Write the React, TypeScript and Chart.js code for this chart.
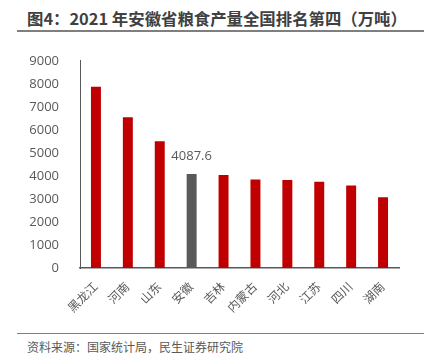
import React, { useEffect, useRef } from "react";
import { Chart, registerables } from "chart.js";

Chart.register(...registerables);

const categories = ["黑龙江", "河南", "山东", "安徽", "吉林", "内蒙古", "河北", "江苏", "四川", "湖南"];
const output = [7867.7, 6544.2, 5500.7, 4087.6, 4039.2, 3840.3, 3825.1, 3746.1, 3582.1, 3074.4];
const highlightIndex = 3;
const highlightLabel = "4087.6";
const yTicks = { min: 0, max: 9000, step: 1000 };

const FONT = '"Open Sans", "Noto Sans CJK SC", sans-serif';
const RED = "#C00000";
const GRAY = "#595959";

const labelPlugin = {
  id: "hlLabel",
  afterDatasetsDraw(chart: any) {
    const meta = chart.getDatasetMeta(0);
    const bar = meta.data[highlightIndex];
    if (!bar) return;
    const ctx = chart.ctx;
    ctx.save();
    ctx.font = `13px ${FONT}`;
    ctx.fillStyle = GRAY;
    ctx.textAlign = "center";
    ctx.textBaseline = "bottom";
    ctx.fillText(highlightLabel, bar.x, bar.y - 11);
    ctx.restore();
  },
};

export default function App() {
  const ref = useRef<HTMLCanvasElement>(null);
  useEffect(() => {
    document.body.style.margin = "0";
    const chart = new Chart(ref.current!, {
      type: "bar",
      data: {
        labels: categories,
        datasets: [
          {
            data: output,
            backgroundColor: output.map((_, i) => (i === highlightIndex ? GRAY : RED)),
            barPercentage: 0.3125,
            categoryPercentage: 1,
          },
        ],
      },
      options: {
        animation: false,
        responsive: false,
        maintainAspectRatio: false,
        layout: { padding: { top: 11, right: 33, left: 0, bottom: 0 } },
        plugins: { legend: { display: false }, tooltip: { enabled: false }, title: { display: false } },
        scales: {
          x: {
            grid: { display: false },
            border: { display: true, color: GRAY, width: 1.5 },
            ticks: {
              minRotation: 45,
              maxRotation: 45,
              autoSkip: false,
              padding: 4,
              color: GRAY,
              font: { family: FONT, size: 12 },
            },
            afterFit(scale: any) {
              scale.height = 62;
            },
          },
          y: {
            min: yTicks.min,
            max: yTicks.max,
            grid: { display: false },
            border: { display: true, color: GRAY, width: 1 },
            ticks: {
              stepSize: yTicks.step,
              padding: 13,
              color: GRAY,
              font: { family: FONT, size: 13 },
              callback: (v: any) => String(v),
            },
            afterFit(scale: any) {
              scale.width = 80;
            },
          },
        },
      },
      plugins: [labelPlugin],
    });
    return () => chart.destroy();
  }, []);

  return (
    <div style={{ position: "fixed", left: 0, top: 0, width: 432, height: 359, background: "#fff", fontFamily: FONT }}>
      <div
        style={{
          position: "absolute",
          left: 27,
          top: 7,
          fontSize: 16.4,
          fontWeight: "bold",
          color: "#404040",
          lineHeight: "22px",
          whiteSpace: "nowrap",
          fontFamily: '"Noto Sans CJK SC", sans-serif',
        }}
      >
        图4：2021 年安徽省粮食产量全国排名第四（万吨）
      </div>
      <div style={{ position: "absolute", left: 17, top: 30, width: 407, height: 2, background: "#7f7f7f" }} />
      <canvas ref={ref} width={432} height={290} style={{ position: "absolute", left: 0, top: 40, width: 432, height: 290 }} />
      <div style={{ position: "absolute", left: 17, top: 333, width: 407, height: 1, background: "#7f7f7f" }} />
      <div
        style={{
          position: "absolute",
          left: 27,
          top: 339,
          fontSize: 12,
          color: GRAY,
          lineHeight: "16px",
          whiteSpace: "nowrap",
          fontFamily: '"Noto Sans CJK SC", sans-serif',
        }}
      >
        资料来源：国家统计局，民生证券研究院
      </div>
    </div>
  );
}
